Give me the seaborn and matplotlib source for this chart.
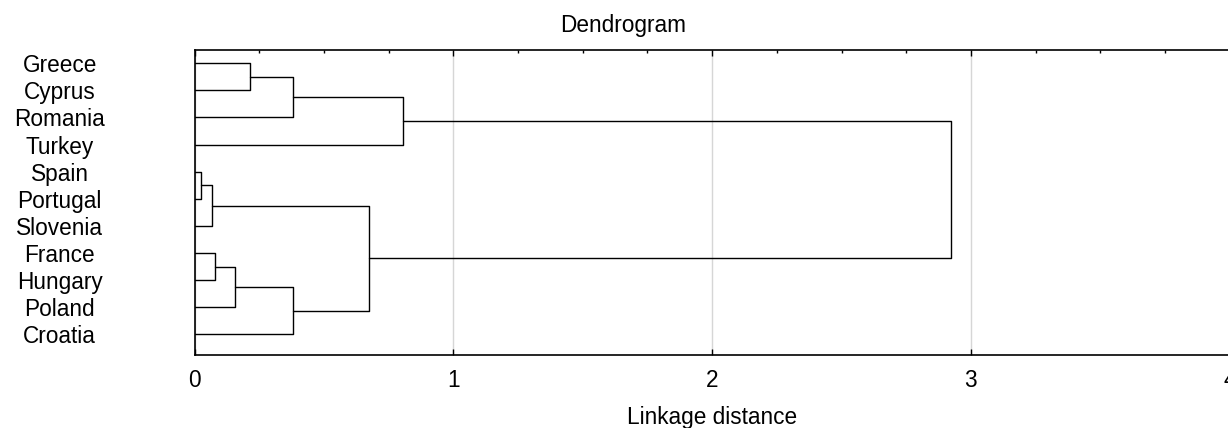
import pandas as pd
import matplotlib
matplotlib.use("Agg")
import matplotlib.pyplot as plt
import seaborn as sns
from matplotlib.ticker import MultipleLocator

# --- Datos ---
countries = ["Greece", "Cyprus", "Romania", "Turkey", "Spain", "Portugal",
             "Slovenia", "France", "Hungary", "Poland", "Croatia"]
# cada fusion: (hijo izquierdo, hijo derecho); hojas 0..10, clusters 11..
merge_left = [0, 11, 12, 4, 14, 7, 16, 17, 15, 13]
merge_right = [1, 2, 3, 5, 6, 8, 9, 10, 18, 19]
merge_height = [0.214, 0.379, 0.807, 0.026, 0.069, 0.079, 0.158, 0.379, 0.675, 2.922]
x_ticks = [0, 1, 2, 3, 4]

sns.set_theme(style="white")
plt.rcParams["font.family"] = ["Liberation Sans", "DejaVu Sans"]

# --- Segmentos del dendrograma ---
pos = {i: float(i) for i in range(len(countries))}
hgt = {i: 0.0 for i in range(len(countries))}
rows = []
for k, (a, b, h) in enumerate(zip(merge_left, merge_right, merge_height)):
    node = len(countries) + k
    for x, y in [(hgt[a], pos[a]), (h, pos[a]), (h, pos[b]), (hgt[b], pos[b])]:
        rows.append({"link": k, "dist": x, "leaf": y})
    pos[node] = (pos[a] + pos[b]) / 2
    hgt[node] = h
df = pd.DataFrame(rows)

fs = 16.3

fig = plt.figure(figsize=(12.28, 4.28), dpi=100)
ax = fig.add_axes([0.1584, 0.1713, 0.843, 0.7119])

sns.lineplot(data=df, x="dist", y="leaf", units="link", estimator=None,
             sort=False, color="black", linewidth=1.0, ax=ax, legend=False)

ax.set_xlim(0, 4)
ax.set_ylim(10.75, -0.49)
ax.set_xticks(x_ticks)
ax.xaxis.set_minor_locator(MultipleLocator(0.25))
ax.grid(axis="x", which="major", color="#d6d6d6", linewidth=1.0)
ax.set_axisbelow(True)

for side in ["left", "bottom", "top"]:
    ax.spines[side].set_visible(True)
    ax.spines[side].set_color("black")
    ax.spines[side].set_linewidth(1.2)
ax.spines["right"].set_visible(False)

ax.tick_params(axis="x", which="major", direction="in", length=4, width=1,
               color="black", bottom=True, top=True, labelsize=fs, pad=10,
               labelcolor="black")
ax.tick_params(axis="x", which="minor", direction="in", length=2, width=1,
               color="black", bottom=False, top=True)

ax.set_yticks(range(len(countries)))
ax.set_yticklabels(countries, ha="center")
ax.tick_params(axis="y", length=0, labelsize=fs, pad=97, labelcolor="black")

ax.set_xlabel("")
ax.set_ylabel("")

fig.text(0.5077, 0.926, "Dendrogram", ha="center", va="baseline", fontsize=fs,
         color="black")
fig.text(0.5802, 0.0093, "Linkage distance", ha="center", va="baseline",
         fontsize=fs, color="black")

fig.savefig("out.png", dpi=100)
